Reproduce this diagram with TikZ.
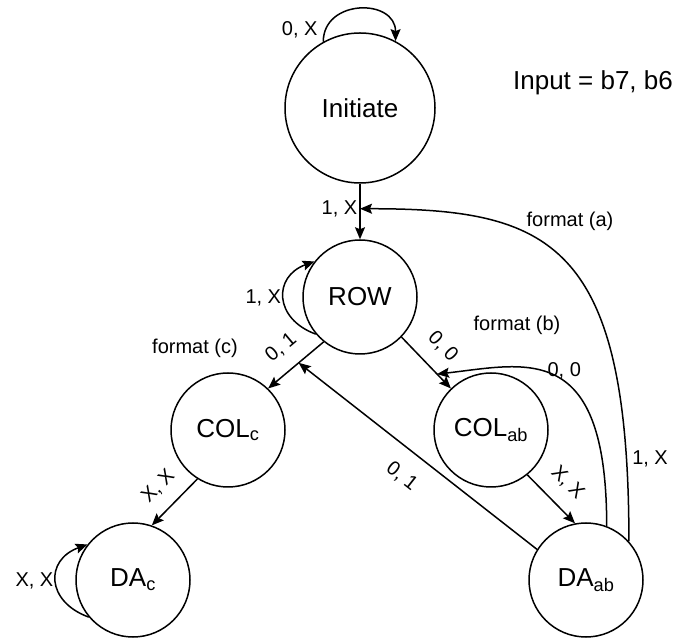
\documentclass[tikz,border=0pt]{standalone}
\usepackage{fontspec}
\setmainfont{Liberation Sans}
\usetikzlibrary{arrows.meta}

\begin{document}
\begin{tikzpicture}[x=1pt,y=1pt,line width=1.5pt,
  >={Stealth[length=12pt,width=10pt,inset=2pt]},
  state/.style={draw,circle,minimum size=114pt,inner sep=0pt,font=\fontsize{26}{31}\selectfont},
  lbl/.style={font=\fontsize{20}{24}\selectfont,inner sep=2pt}]
\useasboundingbox (0,0) rectangle (677,637);
% states
\node[state,minimum size=150pt] (init) at (360,529) {Initiate};
\node[state] (row)   at (360,340) {ROW};
\node[state] (colc)  at (228,207) {COL\textsubscript{c}};
\node[state] (colab) at (491,207) {COL\textsubscript{ab}};
\node[state] (dac)   at (133,57)  {DA\textsubscript{c}};
\node[state] (daab)  at (586,57)  {DA\textsubscript{ab}};
\node[font=\fontsize{26}{31}\selectfont] (inp) at (593,554) {Input = b7, b6};
% straight transitions
\draw[->] (init.south) -- coordinate[pos=0.45] (ir) node[lbl,left,pos=0.45] {1, X} (row.north);
\draw[->] (row.231) -- coordinate[pos=0.45] (rc) node[lbl,sloped,above=12pt] {0, 1} (colc.46);
\draw[->] (row.316) -- coordinate[pos=0.72] (rb) node[lbl,sloped,above=12pt] {0, 0} (colab.134);
\draw[->] (colc.238) -- node[lbl,sloped,above=12pt] {X, X} (dac.71);
\draw[->] (colab.309) -- node[lbl,sloped,above=12pt] {X, X} (daab.101);
\draw[->] (daab.148) -- node[lbl,sloped,below=15pt] {0, 1} (rc);
% self loops
\draw[->] (init.119) .. controls +(0,43) and +(0,43) .. node[lbl,pos=0.1,left=5pt] {0, X} (init.62);
\draw[->] (row.220) to[out=160,in=200,looseness=1.56] node[lbl,left] {1, X} (row.142);
\draw[->] (dac.220) to[out=160,in=200,looseness=1.6] node[lbl,left] {X, X} (dac.142);
% return paths
\draw[->] (daab.69) .. controls +(0,187) and +(89,10) .. node[lbl,pos=0.45,above] {0, 0} (rb);
\draw[->] (daab.42) .. controls +(0,300) and +(190,0) .. node[lbl,pos=0.1,right=3pt] {1, X} (ir);
% format notes
\node[lbl] (fa) at (570,416) {format (a)};
\node[lbl] (fb) at (517,312) {format (b)};
\node[lbl] (fc) at (195,289) {format (c)};
\end{tikzpicture}
\end{document}
